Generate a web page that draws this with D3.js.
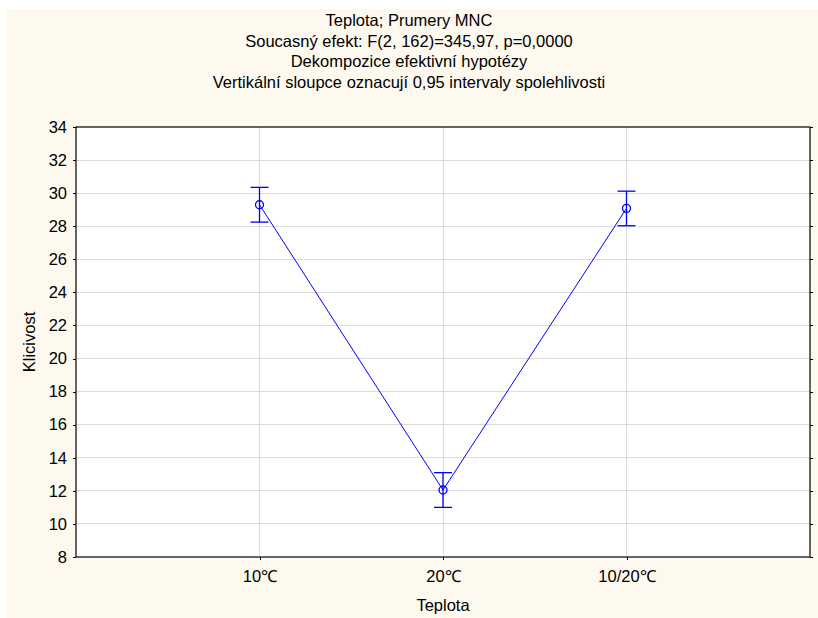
<!DOCTYPE html>
<html><head><meta charset="utf-8">
<script src="https://cdn.jsdelivr.net/npm/d3@7"></script>
<style>body{margin:0;background:#fff;}svg text{font-family:"Liberation Sans",Arial,sans-serif;fill:#000;}</style>
</head><body>
<svg id="c" width="818" height="618"></svg>
<script>
const categories = ["10\u2103", "20\u2103", "10/20\u2103"];
const means = [29.3, 12.05, 29.08];
const upper = [30.35, 13.1, 30.12];
const lower = [28.25, 11.0, 28.03];
const yTicks = [8,10,12,14,16,18,20,22,24,26,28,30,32,34];
const titleLines = ["Teplota; Prumery MNC","Soucasný efekt: F(2, 162)=345,97, p=0,0000","Dekompozice efektivní hypotézy","Vertikální sloupce oznacují 0,95 intervaly spolehlivosti"];

const FS = "16.5px";
const svg = d3.select("#c");
const m = {l:76, t:127, r:810, b:557};
svg.append("rect").attr("x",6).attr("y",9).attr("width",812).attr("height",609).attr("fill","#fdf9ef");
svg.append("rect").attr("x",m.l).attr("y",m.t).attr("width",m.r-m.l).attr("height",m.b-m.t).attr("fill","#fff");

const x = d3.scaleLinear().domain([0,4]).range([m.l,m.r]);
const y = d3.scaleLinear().domain([8,34]).range([m.b,m.t]);

// grid
svg.append("g").selectAll("line").data(yTicks.slice(1,-1)).join("line")
  .attr("x1",m.l).attr("x2",m.r).attr("y1",d=>y(d)).attr("y2",d=>y(d))
  .attr("stroke","#dcdcdc").attr("stroke-width",1).attr("shape-rendering","crispEdges");
svg.append("g").selectAll("line").data(categories).join("line")
  .attr("x1",(d,i)=>x(i+1)).attr("x2",(d,i)=>x(i+1)).attr("y1",m.t).attr("y2",m.b)
  .attr("stroke","#dcdcdc").attr("stroke-width",1).attr("shape-rendering","crispEdges");

// axes
const yAxis = d3.axisLeft(y).tickValues(yTicks).tickSize(3).tickPadding(6);
const gy = svg.append("g").attr("transform",`translate(${m.l},0)`).call(yAxis);
gy.select(".domain").remove();
gy.selectAll("text").style("font-size",FS);
const yAxisR = d3.axisRight(y).tickValues(yTicks).tickSize(3).tickFormat("");
const gyr = svg.append("g").attr("transform",`translate(${m.r},0)`).call(yAxisR);
gyr.select(".domain").remove();
const xAxis = d3.axisBottom(x).tickValues([1,2,3]).tickFormat((d)=>categories[d-1]).tickSize(3).tickPadding(10);
const gx = svg.append("g").attr("transform",`translate(0,${m.b})`).call(xAxis);
gx.select(".domain").remove();
gx.selectAll("text").style("font-size",FS);
svg.selectAll(".tick line").attr("stroke","#000").attr("shape-rendering","crispEdges");
svg.append("rect").attr("x",m.l).attr("y",m.t).attr("width",m.r-m.l).attr("height",m.b-m.t)
  .attr("fill","none").attr("stroke","#000").attr("stroke-width",1.2);

// data
const blue = "#0000ff";
const line = d3.line().x((d,i)=>x(i+1)).y(d=>y(d));
svg.append("path").attr("d",line(means)).attr("fill","none").attr("stroke",blue).attr("stroke-width",1);
const eb = svg.append("g").attr("stroke",blue).attr("stroke-width",1.3).attr("fill","none");
categories.forEach((c,i)=>{
  const cx = x(i+1);
  eb.append("line").attr("x1",cx).attr("x2",cx).attr("y1",y(upper[i])).attr("y2",y(lower[i]));
  eb.append("line").attr("x1",cx-9).attr("x2",cx+9).attr("y1",y(upper[i])).attr("y2",y(upper[i]));
  eb.append("line").attr("x1",cx-9).attr("x2",cx+9).attr("y1",y(lower[i])).attr("y2",y(lower[i]));
  eb.append("circle").attr("cx",cx).attr("cy",y(means[i])).attr("r",4);
});

// titles
svg.append("g").selectAll("text").data(titleLines).join("text")
  .attr("x",409).attr("y",(d,i)=>26+i*20.7).attr("text-anchor","middle").style("font-size",FS).text(d=>d);
svg.append("text").attr("x",(m.l+m.r)/2).attr("y",611).attr("text-anchor","middle").style("font-size",FS).text("Teplota");
svg.append("text").attr("transform",`translate(35,${(m.t+m.b)/2}) rotate(-90)`).attr("text-anchor","middle").style("font-size",FS).text("Klicivost");
</script>
</body></html>
